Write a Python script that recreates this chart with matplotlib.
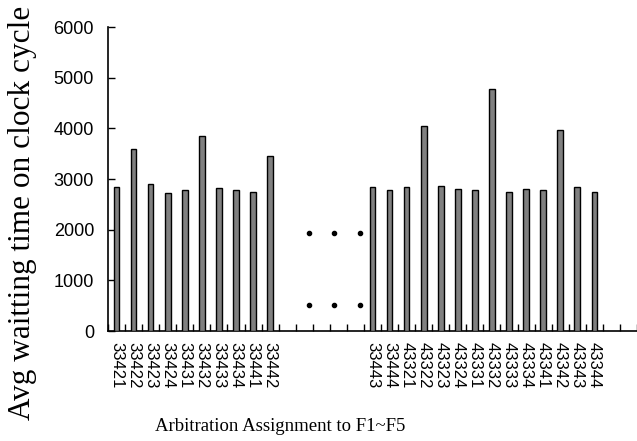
import matplotlib
matplotlib.use("Agg")
import matplotlib.pyplot as plt
import numpy as np

# Left group of assignments, then a gap, then right group.
labels_a = ["33421", "33422", "33423", "33424", "33431",
            "33432", "33433", "33434", "33441", "33442"]
values_a = [2834, 3596, 2893, 2722, 2781, 3852, 2815, 2781, 2748, 3458]

labels_b = ["33443", "33444", "43321", "43322", "43323", "43324", "43331",
            "43332", "43333", "43334", "43341", "43342", "43343", "43344"]
values_b = [2834, 2781, 2834, 4043, 2866, 2807, 2781,
            4773, 2748, 2807, 2781, 3965, 2834, 2748]

n_gap = 5       # empty categories between the groups
n_tail = 2      # empty categories after the last bar
dot_levels = [1934, 513]


def main():
    fig = plt.figure(figsize=(6.37, 4.41), dpi=100)
    ax = fig.add_axes([108 / 637, 1 - 331 / 441, 1 - 108 / 637, 304 / 441])

    labels = labels_a + [""] * n_gap + labels_b + [""] * n_tail
    values = values_a + [np.nan] * n_gap + values_b + [np.nan] * n_tail
    x = np.arange(len(labels))

    ax.bar(x, values, width=0.33, color="#808080", edgecolor="black",
           linewidth=1.0, zorder=3)

    # dots marking the omitted assignments
    gap_start = len(labels_a)
    dot_x = gap_start + np.array([1.26, 2.77, 4.28])
    for lv in dot_levels:
        ax.plot(dot_x, [lv] * len(dot_x), "o", color="black", markersize=3)

    ax.set_ylim(0, 6000)
    ax.set_xlim(-0.5, len(labels) - 0.78)
    ax.set_yticks(np.arange(0, 6001, 1000))
    ax.set_yticklabels([str(v) for v in range(0, 6001, 1000)],
                       family="Liberation Sans", fontsize=13)
    ax.tick_params(axis="y", direction="in", length=5, width=1, pad=10)

    # ticks between categories, label under each category
    ax.set_xticks(np.arange(len(labels) + 1) - 0.5)
    ax.set_xticklabels([])
    ax.set_xticks(x, minor=True)
    ax.set_xticklabels(labels, minor=True, rotation=-90,
                       family="Liberation Sans", fontsize=12, va="top")
    ax.tick_params(axis="x", which="major", direction="in", length=5, width=1)
    ax.tick_params(axis="x", which="minor", length=0, pad=8)

    for s in ["top", "right"]:
        ax.spines[s].set_visible(False)
    ax.spines["left"].set_linewidth(1.2)
    ax.spines["bottom"].set_linewidth(1.2)

    fig.text(0.036, 0.518, "Avg waitting time on clock cycle", rotation=90,
             family="Liberation Serif", fontsize=22.5, ha="center", va="center")
    fig.text(0.44, 0.032, "Arbitration Assignment to F1~F5",
             family="Liberation Serif", fontsize=13.5, ha="center", va="center")

    fig.savefig("out.png", dpi=100)


if __name__ == "__main__":
    main()
